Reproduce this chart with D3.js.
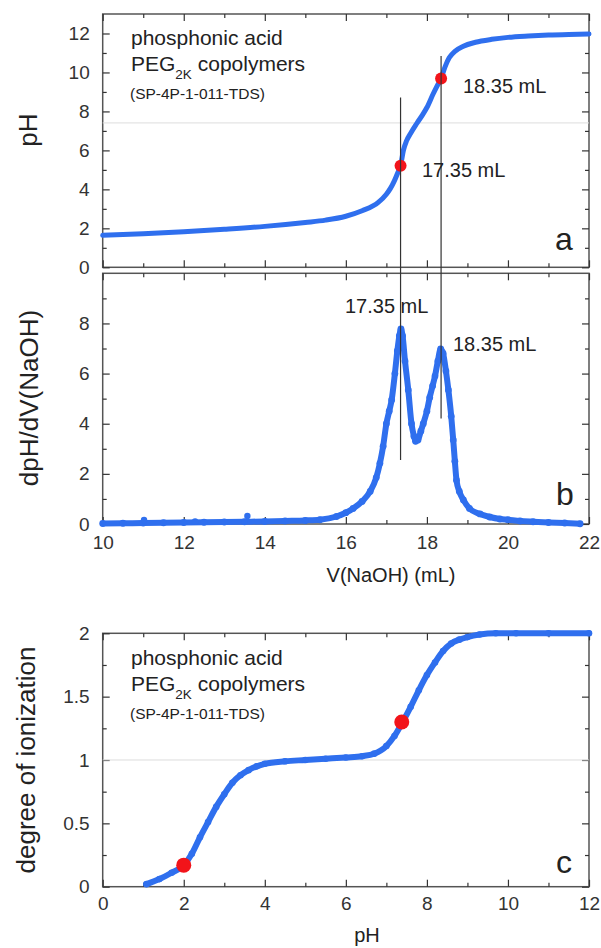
<!DOCTYPE html>
<html>
<head>
<meta charset="utf-8">
<script src="https://cdn.jsdelivr.net/npm/d3@7"></script>
<style>
body { margin: 0; background: #fff; }
svg { font-family: "Liberation Sans", Arial, Helvetica, sans-serif; }
</style>
</head>
<body>
<svg id="chart" width="601" height="948"></svg>
<script>
// ---- data ----
// a: titration curve, pH vs V(NaOH)
var volA = [10, 11, 12, 13, 14, 15, 15.5, 16, 16.4, 16.8, 17.0, 17.1, 17.2, 17.3, 17.35, 17.42, 17.5, 17.6, 17.75, 17.9, 18.0, 18.15, 18.25, 18.35, 18.45, 18.55, 18.7, 18.9, 19.2, 19.6, 20, 20.5, 21, 21.5, 22];
var phA = [1.64, 1.72, 1.82, 1.95, 2.1, 2.3, 2.42, 2.62, 2.9, 3.33, 3.75, 4.05, 4.45, 4.95, 5.21, 6.0, 6.5, 6.88, 7.38, 7.85, 8.2, 8.88, 9.3, 9.7, 10.3, 10.75, 11.1, 11.35, 11.55, 11.7, 11.8, 11.87, 11.92, 11.95, 11.97];

// b: derivative dpH/dV
var volB = [10, 10.5, 11, 11.5, 12, 12.5, 13, 13.5, 14, 14.5, 15, 15.36, 15.77, 16.0, 16.18, 16.4, 16.6, 16.75, 16.84, 16.92, 17.0, 17.07, 17.13, 17.21, 17.27, 17.32, 17.36, 17.4, 17.46, 17.54, 17.62, 17.68, 17.72, 17.78, 17.85, 17.91, 18.0, 18.07, 18.14, 18.2, 18.27, 18.34, 18.4, 18.47, 18.53, 18.6, 18.65, 18.69, 18.73, 18.8, 18.9, 19.05, 19.31, 19.55, 19.8, 20.0, 20.3, 20.62, 21.0, 21.4, 21.78];
var dphB = [0.02, 0.03, 0.04, 0.05, 0.06, 0.07, 0.08, 0.09, 0.1, 0.12, 0.14, 0.17, 0.3, 0.45, 0.62, 0.9, 1.3, 1.85, 2.42, 3.1, 4.0, 4.5, 4.95, 6.0, 6.9, 7.5, 7.78, 7.5, 6.5, 5.35, 4.0, 3.5, 3.3, 3.35, 3.7, 4.0, 4.5, 5.05, 5.5, 5.9, 6.5, 6.98, 6.8, 6.1, 5.35, 4.3, 3.35, 2.5, 1.75, 1.3, 0.96, 0.62, 0.4, 0.28, 0.2, 0.17, 0.12, 0.09, 0.06, 0.04, 0.01];
var spikeV = [11.02, 12.28, 13.57];
var spikeD = [0.16, 0.1, 0.32];

// c: degree of ionization vs pH
var phC = [1.08, 1.4, 1.7, 2.0, 2.2, 2.4, 2.6, 2.8, 3.0, 3.2, 3.4, 3.6, 3.8, 4.0, 4.5, 5.0, 5.5, 6.0, 6.4, 6.7, 7.0, 7.2, 7.4, 7.6, 7.8, 8.0, 8.2, 8.4, 8.6, 8.8, 9.0, 9.3, 9.7, 10.2, 11, 12];
var degC = [0.02, 0.06, 0.11, 0.17, 0.26, 0.39, 0.51, 0.63, 0.73, 0.82, 0.88, 0.92, 0.95, 0.97, 0.99, 1.0, 1.01, 1.02, 1.03, 1.05, 1.11, 1.19, 1.30, 1.42, 1.55, 1.67, 1.77, 1.86, 1.92, 1.95, 1.97, 1.99, 2.0, 2.0, 2.0, 2.0];

// equivalence points
var eqVol = [17.35, 18.35];
var eqPh = [5.21, 9.69];
var eqLabels = ['17.35 mL', '18.35 mL'];
var eqLineTopPh = [8.72, 10.84];
var eqLineBotDph = [2.55, 4.21];
var redPhC = [2.0, 7.38];
var redDegC = [0.17, 1.30];

// ticks
var volMajor = [10, 12, 14, 16, 18, 20, 22];
var volMinor = [11, 13, 15, 17, 19, 21];
var phMajor = [0, 2, 4, 6, 8, 10, 12];
var phMinor = [1, 3, 5, 7, 9, 11];
var dphMajor = [0, 2, 4, 6, 8];
var dphMinor = [1, 3, 5, 7, 9];
var degMajor = [0, 0.5, 1, 1.5, 2];
var degMinor = [0.25, 0.75, 1.25, 1.75];

/***********************************************************
  Layout
***********************************************************/
var left = 102.7, plotW = 486.3;
var blue = '#2f6fee', red = '#f2141a', ink = '#222';
var svg = d3.select('#chart');

var x = d3.scaleLinear().domain([10, 22]).range([0, plotW]);
var xc = d3.scaleLinear().domain([0, 12]).range([0, plotW]);
var ya = d3.scaleLinear().domain([0, 13]).range([253.3, 0]);
var yb = d3.scaleLinear().domain([0, 10]).range([250.7, 0]);
var yc = d3.scaleLinear().domain([0, 2]).range([253.4, 0]);

var topA = 14, topB = 273.3, topC = 633.3;
var gA = svg.append('g').attr('transform', 'translate(' + left + ',' + topA + ')');
var gB = svg.append('g').attr('transform', 'translate(' + left + ',' + topB + ')');
var gC = svg.append('g').attr('transform', 'translate(' + left + ',' + topC + ')');

function styleAxis(sel) {
	sel.select('.domain').remove();
	sel.attr('font-family', null).attr('font-size', 19).attr('color', '#333');
	sel.selectAll('line').attr('stroke-width', 1.2);
}

function axes(g, xs, ys, o) {
	var w = xs.range()[1], h = ys.range()[0];
	g.append('rect').attr('width', w).attr('height', h)
		.attr('fill', 'none').attr('stroke', '#555').attr('stroke-width', 1.5);
	g.append('g').call(d3.axisLeft(ys).tickValues(o.yMajor).tickSize(-7).tickPadding(13).tickFormat(d => String(d))).call(styleAxis);
	g.append('g').call(d3.axisLeft(ys).tickValues(o.yMinor).tickSize(-4).tickFormat('')).call(styleAxis);
	g.append('g').attr('transform', 'translate(' + w + ',0)').call(d3.axisRight(ys).tickValues(o.yMajor).tickSize(-7).tickFormat('')).call(styleAxis);
	g.append('g').attr('transform', 'translate(' + w + ',0)').call(d3.axisRight(ys).tickValues(o.yMinor).tickSize(-4).tickFormat('')).call(styleAxis);
	var bot = d3.axisBottom(xs).tickValues(o.xMajor).tickSize(-7).tickPadding(o.xPad);
	if (!o.xLabels) bot.tickFormat('');
	g.append('g').attr('transform', 'translate(0,' + h + ')').call(bot).call(styleAxis);
	g.append('g').attr('transform', 'translate(0,' + h + ')').call(d3.axisBottom(xs).tickValues(o.xMinor).tickSize(-4).tickFormat('')).call(styleAxis);
	g.append('g').call(d3.axisTop(xs).tickValues(o.xMajor).tickSize(-7).tickFormat('')).call(styleAxis);
	g.append('g').call(d3.axisTop(xs).tickValues(o.xMinor).tickSize(-4).tickFormat('')).call(styleAxis);
}

/***********************************************************
  Panel a
***********************************************************/
axes(gA, x, ya, { yMajor: phMajor, yMinor: phMinor, xMajor: volMajor, xMinor: volMinor, xLabels: false, xPad: 10 });
gA.append('line').attr('x1', 0).attr('x2', plotW).attr('y1', ya(7.41)).attr('y2', ya(7.41))
	.attr('stroke', '#ddd').attr('stroke-width', 1);
var dataA = volA.map((v, i) => [v, phA[i]]);
gA.append('path').datum(dataA)
	.attr('d', d3.line().x(d => x(d[0])).y(d => ya(d[1])).curve(d3.curveMonotoneX))
	.attr('fill', 'none').attr('stroke', blue).attr('stroke-width', 5).attr('stroke-linecap', 'round');
gA.selectAll('.eq').data(eqVol).enter().append('circle')
	.attr('cx', d => x(d)).attr('cy', (d, i) => ya(eqPh[i])).attr('r', 6).attr('fill', red);

/***********************************************************
  Panel b
***********************************************************/
axes(gB, x, yb, { yMajor: dphMajor, yMinor: dphMinor, xMajor: volMajor, xMinor: volMinor, xLabels: true, xPad: 12 });
var dataB = volB.map((v, i) => [v, dphB[i]]);
gB.append('path').datum(dataB)
	.attr('d', d3.line().x(d => x(d[0])).y(d => yb(d[1])).curve(d3.curveMonotoneX))
	.attr('fill', 'none').attr('stroke', blue).attr('stroke-width', 6).attr('stroke-linejoin', 'round');
gB.selectAll('.pt').data(dataB).enter().append('circle')
	.attr('cx', d => x(d[0])).attr('cy', d => yb(d[1])).attr('r', 3.4).attr('fill', blue);
gB.selectAll('.spk').data(spikeV).enter().append('circle')
	.attr('cx', d => x(d)).attr('cy', (d, i) => yb(spikeD[i])).attr('r', 3.2).attr('fill', blue);

// vertical markers running through panels a and b
svg.selectAll('.vline').data(eqVol).enter().append('line')
	.attr('x1', d => left + x(d)).attr('x2', d => left + x(d))
	.attr('y1', (d, i) => topA + ya(eqLineTopPh[i]))
	.attr('y2', (d, i) => topB + yb(eqLineBotDph[i]))
	.attr('stroke', '#333').attr('stroke-width', 1.2);

/***********************************************************
  Panel c
***********************************************************/
axes(gC, xc, yc, { yMajor: degMajor, yMinor: degMinor, xMajor: phMajor, xMinor: phMinor, xLabels: true, xPad: 10 });
gC.append('line').attr('x1', 0).attr('x2', plotW).attr('y1', yc(1)).attr('y2', yc(1))
	.attr('stroke', '#ddd').attr('stroke-width', 1);
var dataC = phC.map((p, i) => [p, degC[i]]);
gC.append('path').datum(dataC)
	.attr('d', d3.line().x(d => xc(d[0])).y(d => yc(d[1])).curve(d3.curveMonotoneX))
	.attr('fill', 'none').attr('stroke', blue).attr('stroke-width', 6).attr('stroke-linecap', 'round');
gC.selectAll('.pt').data(dataC).enter().append('circle')
	.attr('cx', d => xc(d[0])).attr('cy', d => yc(d[1])).attr('r', 3.3).attr('fill', blue);
gC.selectAll('.red').data(redPhC).enter().append('circle')
	.attr('cx', d => xc(d)).attr('cy', (d, i) => yc(redDegC[i])).attr('r', 7.5).attr('fill', red);

/***********************************************************
  Texts
***********************************************************/
function txt(x0, y0, s, size, anchor) {
	return svg.append('text').attr('x', x0).attr('y', y0).text(s)
		.attr('font-size', size).attr('fill', ink).attr('text-anchor', anchor || 'start');
}
function sample(y0) {
	txt(131, y0, 'phosphonic acid', 21);
	var t = svg.append('text').attr('x', 131).attr('y', y0 + 26).attr('font-size', 21).attr('fill', ink);
	t.append('tspan').text('PEG');
	t.append('tspan').attr('font-size', 13.5).attr('dy', 8).text('2K');
	t.append('tspan').attr('dy', -8).text(' copolymers');
	txt(130, y0 + 54, '(SP-4P-1-011-TDS)', 15.5);
}
sample(45);
sample(665);

txt(463, 93, eqLabels[1], 20);
txt(422, 177, eqLabels[0], 20);
txt(345, 313, eqLabels[0], 20);
txt(453, 351, eqLabels[1], 20);

txt(555, 250, 'a', 32);
txt(556, 505, 'b', 32);
txt(556, 873, 'c', 32);

function ytitle(x0, y0, s) {
	svg.append('text').attr('transform', 'translate(' + x0 + ',' + y0 + ') rotate(-90)')
		.attr('text-anchor', 'middle').attr('font-size', 26).attr('fill', ink).text(s);
}
ytitle(37, 130, 'pH');
ytitle(38, 398, 'dpH/dV(NaOH)');
ytitle(35, 760, 'degree of ionization');
txt(391, 582, 'V(NaOH) (mL)', 20, 'middle');
txt(367, 942, 'pH', 20, 'middle');
</script>
</body>
</html>
